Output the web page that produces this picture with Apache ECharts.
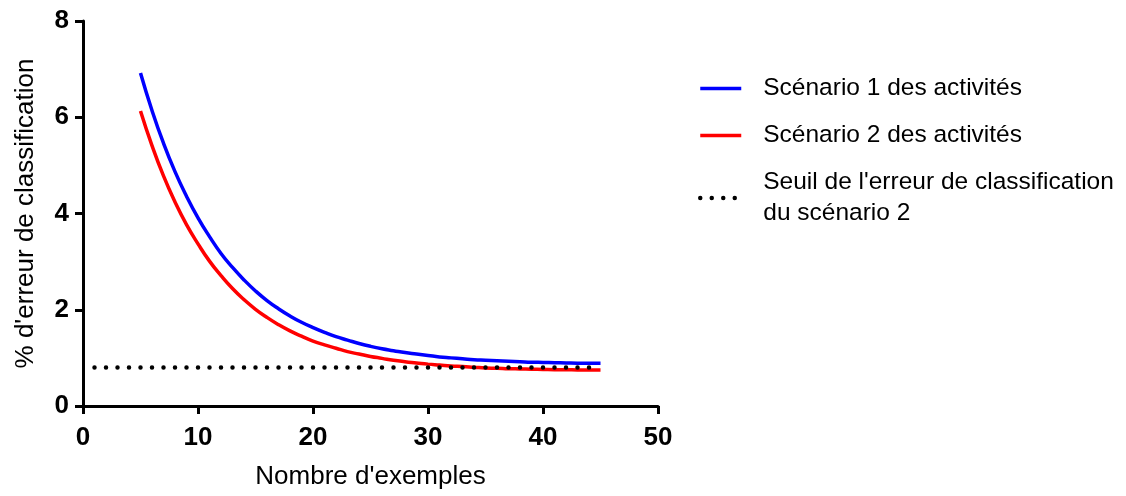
<!DOCTYPE html>
<html>
<head>
<meta charset="utf-8">
<script src="https://cdn.jsdelivr.net/npm/echarts@6/dist/echarts.min.js"></script>
<style>html,body{margin:0;padding:0;background:#fff;}#c{width:1126px;height:496px;}</style>
</head>
<body>
<div id="c"></div>
<script>
const examples = [5,6,7,8,9,10,11,12,13,14,15,16,17,18,19,20,21,22,23,24,25,26,27,28,29,30,31,32,33,34,35,36,37,38,39,40,41,42,43,44,45];
const scenario1 = [6.92,6.14,5.46,4.87,4.36,3.91,3.52,3.17,2.88,2.62,2.39,2.19,2.02,1.87,1.74,1.63,1.53,1.44,1.37,1.30,1.24,1.19,1.15,1.11,1.08,1.05,1.02,1.00,0.98,0.96,0.95,0.94,0.93,0.92,0.91,0.905,0.90,0.895,0.89,0.89,0.89];
const scenario2 = [6.13,5.41,4.78,4.24,3.77,3.37,3.01,2.71,2.44,2.21,2.01,1.84,1.69,1.56,1.45,1.35,1.27,1.20,1.13,1.08,1.03,0.99,0.95,0.92,0.895,0.87,0.85,0.83,0.82,0.805,0.79,0.785,0.775,0.77,0.765,0.76,0.755,0.755,0.75,0.75,0.75];
const thresholdX = [1,45];
const thresholdY = [0.8,0.8];
const xTicks = [0,10,20,30,40,50];
const yTicks = [0,2,4,6,8];
const names = ["Scénario 1 des activités","Scénario 2 des activités","Seuil de l'erreur de classification\ndu scénario 2"];

const FONT = "'Liberation Sans', Arial, sans-serif";
const zip = (xs, ys) => xs.map((x,i)=>[x, ys[i]]);
const dotted = {color:'#000', width:4.5, type:[0,11.5], cap:'round'};

const chart = echarts.init(document.getElementById('c'), null, {renderer:'canvas'});
chart.setOption({
  animation:false,
  backgroundColor:'#fff',
  grid:{left:83, right:468, top:21, bottom:90, containLabel:false, outerBoundsMode:'none'},
  xAxis:{
    type:'value', min:xTicks[0], max:xTicks[xTicks.length-1], interval:10,
    name:'Nombre d\'exemples', nameLocation:'middle', nameGap:58,
    nameTextStyle:{fontFamily:FONT, fontSize:26, color:'#000'},
    axisLine:{show:true, onZero:false, lineStyle:{color:'#000', width:3}},
    axisTick:{show:true, inside:false, length:8, lineStyle:{color:'#000', width:3}},
    axisLabel:{margin:19, fontFamily:FONT, fontSize:26, fontWeight:'bold', color:'#000'},
    splitLine:{show:false}
  },
  yAxis:{
    type:'value', min:yTicks[0], max:yTicks[yTicks.length-1], interval:2,
    name:'% d\'erreur de classification', nameLocation:'middle', nameGap:44, nameRotate:90,
    nameTextStyle:{fontFamily:FONT, fontSize:26, color:'#000'},
    axisLine:{show:true, onZero:false, lineStyle:{color:'#000', width:3}},
    axisTick:{show:true, inside:false, length:8, lineStyle:{color:'#000', width:3}},
    axisLabel:{margin:14, fontFamily:FONT, fontSize:26, fontWeight:'bold', color:'#000'},
    splitLine:{show:false}
  },
  legend:{
    orient:'vertical', left:698, top:73, padding:0, itemWidth:41, itemHeight:14, itemGap:16,
    itemStyle:{opacity:0},
    lineStyle:{width:3.5},
    textStyle:{fontFamily:FONT, fontSize:24.5, color:'#000', lineHeight:31, padding:[0,0,0,17]},
    data:[
      {name:names[0]},
      {name:names[1]},
      {name:names[2], lineStyle:dotted}
    ]
  },
  series:[
    {name:names[0], type:'line', smooth:true, symbol:'none', data:zip(examples, scenario1),
     lineStyle:{color:'#0000ff', width:3.5}, itemStyle:{color:'#0000ff'}},
    {name:names[1], type:'line', smooth:true, symbol:'none', data:zip(examples, scenario2),
     lineStyle:{color:'#ff0000', width:3.5}, itemStyle:{color:'#ff0000'}},
    {name:names[2], type:'line', symbol:'none', data:zip(thresholdX, thresholdY),
     lineStyle:dotted, itemStyle:{color:'#000'}}
  ]
});
</script>
</body>
</html>
